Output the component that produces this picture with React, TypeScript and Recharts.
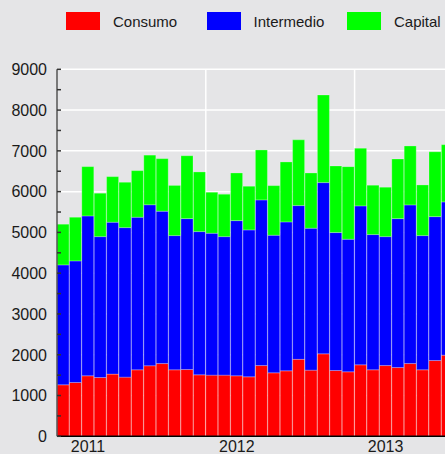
import React from "react";
import { BarChart, Bar, XAxis, YAxis, CartesianGrid, Legend } from "recharts";

const months = [
  "2011-01", "2011-02", "2011-03", "2011-04", "2011-05", "2011-06",
  "2011-07", "2011-08", "2011-09", "2011-10", "2011-11", "2011-12",
  "2012-01", "2012-02", "2012-03", "2012-04", "2012-05", "2012-06",
  "2012-07", "2012-08", "2012-09", "2012-10", "2012-11", "2012-12",
  "2013-01", "2013-02", "2013-03", "2013-04", "2013-05", "2013-06",
  "2013-07", "2013-08",
];

const consumo = [
  1262, 1319, 1483, 1441, 1525, 1451, 1630, 1730, 1784, 1630, 1637, 1507,
  1500, 1500, 1483, 1458, 1735, 1556, 1605, 1887, 1622, 2022, 1613, 1581,
  1752, 1630, 1735, 1686, 1784, 1630, 1858, 1990,
];
const intermedio = [
  2941, 2982, 3921, 3456, 3725, 3667, 3742, 3948, 3736, 3292, 3701, 3513,
  3480, 3397, 3806, 3603, 4062, 3375, 3652, 3771, 3481, 4199, 3383, 3252,
  3898, 3317, 3162, 3652, 3890, 3292, 3529, 3758,
];
const capital = [
  998, 1071, 1209, 1064, 1118, 1112, 1143, 1217, 1289, 1230, 1542, 1463,
  1005, 1039, 1169, 1071, 1225, 1216, 1471, 1612, 1355, 2149, 1634, 1780,
  1414, 1210, 1211, 1463, 1446, 1242, 1591, 1404,
];

const seriesNames = ["Consumo", "Intermedio", "Capital"];
const seriesColors = ["#ff0000", "#0000ff", "#00ff00"];
const yearTicks = ["2011-03", "2012-03", "2013-03"];
const yearStarts = ["2012-01", "2013-01"];
const yTicks = [
  0, 500, 1000, 1500, 2000, 2500, 3000, 3500, 4000, 4500,
  5000, 5500, 6000, 6500, 7000, 7500, 8000, 8500, 9000,
];
const gridValues = [1000, 2000, 3000, 4000, 5000, 6000, 7000, 8000, 9000];

const data = months.map((m, i) => ({
  mes: m,
  Consumo: consumo[i],
  Intermedio: intermedio[i],
  Capital: capital[i],
}));

const FONT = '"Liberation Sans", Arial, Helvetica, sans-serif';
const BG = "#e5e5e7";

const YTick = (props: any) => {
  const { x, y, payload } = props;
  const v = payload.value;
  return (
    <g>
      <line x1={x + 10} x2={x + 14} y1={y} y2={y} stroke="#333" strokeWidth={1.5} />
      {v % 1000 === 0 && (
        <text x={x} y={y} dy="0.36em" textAnchor="end" fill="#1a1a1a" fontSize={16} fontFamily={FONT}>
          {v}
        </text>
      )}
    </g>
  );
};

// legend keeps the reference's order, whatever order recharts hands over
const LegendBox = () => (
  <div style={{ position: "relative", width: 445, height: 45 }}>
    {seriesNames.map((name, i) => (
      <div
        key={name}
        style={{
          position: "absolute",
          left: 66 + i * 140.5,
          top: 12,
          display: "flex",
          alignItems: "center",
          whiteSpace: "nowrap",
        }}
      >
        <div style={{ width: 34, height: 18, background: seriesColors[i], flex: "none" }} />
        <span style={{ marginLeft: 13, fontSize: 15, fontFamily: FONT, color: "#1a1a1a" }}>{name}</span>
      </div>
    ))}
  </div>
);

export default function App() {
  return (
    <div style={{ position: "absolute", left: 0, top: 0, width: 445, height: 454, overflow: "hidden", background: BG }}>
      <BarChart
        width={456}
        height={454}
        data={data}
        margin={{ top: 69.3, right: 2.2, bottom: 0, left: 0 }}
        barCategoryGap={0}
        barGap={0}
      >
        <CartesianGrid
          stroke="#ffffff"
          strokeWidth={1.5}
          fill={BG}
          horizontalValues={gridValues}
          verticalCoordinatesGenerator={({ offset }: any) => {
            const step = offset.width / months.length;
            return yearStarts.map((m) => offset.left + months.indexOf(m) * step);
          }}
        />
        <XAxis
          dataKey="mes"
          ticks={yearTicks}
          interval={0}
          height={17.7}
          tickLine={false}
          tickSize={5}
          tickMargin={-1}
          tickFormatter={(v: string) => v.slice(0, 4)}
          axisLine={{ stroke: "#000", strokeWidth: 1.5 }}
          tick={{ fill: "#1a1a1a", fontSize: 16, fontFamily: FONT }}
        />
        <YAxis
          width={57}
          domain={[0, 9000]}
          ticks={yTicks}
          interval={0}
          tickLine={false}
          tickSize={8}
          tickMargin={2}
          axisLine={{ stroke: "#555", strokeWidth: 1.5 }}
          tick={<YTick />}
        />
        <Legend
          verticalAlign="middle"
          align="center"
          layout="horizontal"
          wrapperStyle={{ top: 0, left: 0, width: 445, height: 45 }}
          content={<LegendBox />}
        />
        <Bar dataKey="Consumo" stackId="a" fill={seriesColors[0]} stroke="rgba(255,255,255,0.35)" strokeWidth={0.7} isAnimationActive={false} />
        <Bar dataKey="Intermedio" stackId="a" fill={seriesColors[1]} stroke="rgba(255,255,255,0.35)" strokeWidth={0.7} isAnimationActive={false} />
        <Bar dataKey="Capital" stackId="a" fill={seriesColors[2]} stroke="rgba(255,255,255,0.35)" strokeWidth={0.7} isAnimationActive={false} />
      </BarChart>
    </div>
  );
}
